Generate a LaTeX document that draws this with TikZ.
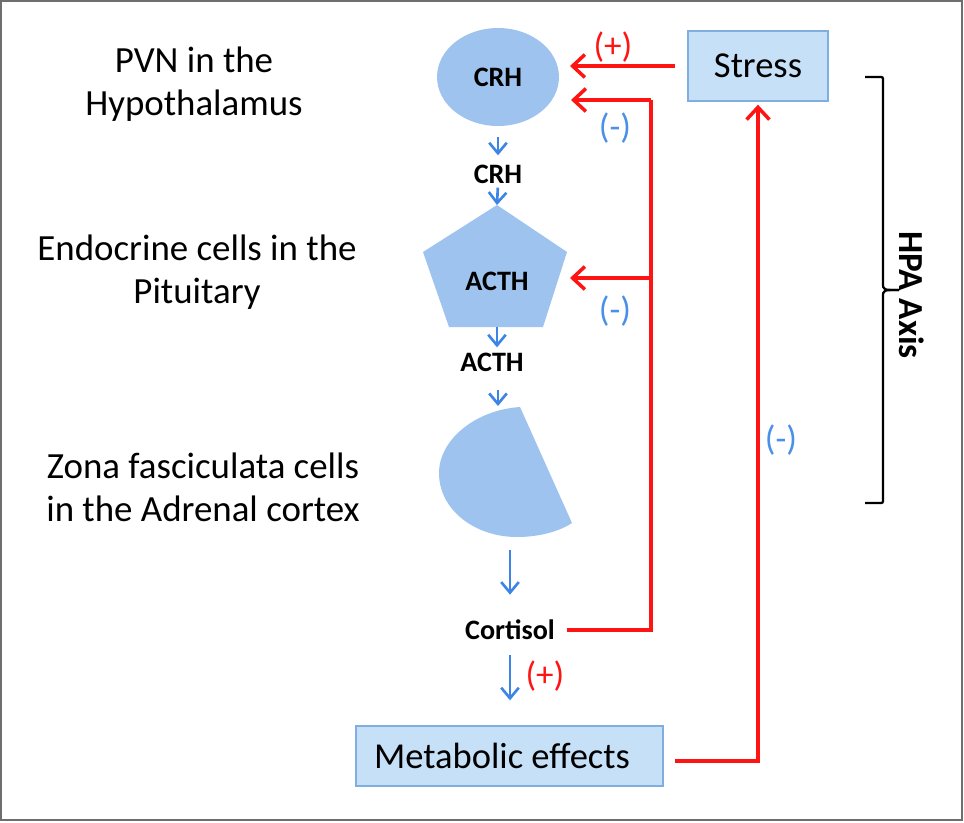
\documentclass[tikz,border=0pt]{standalone}
\usepackage{fontspec}
\setmainfont{Carlito}
\usetikzlibrary{arrows.meta,shapes.geometric}
\definecolor{shapeblue}{HTML}{9DC3EE}
\definecolor{boxfill}{HTML}{C6E0F7}
\definecolor{boxedge}{HTML}{7FAEDF}
\definecolor{arrowblue}{HTML}{3D84E6}
\definecolor{signblue}{HTML}{4A90E8}
\definecolor{fbred}{HTML}{FF1414}
\definecolor{framegray}{HTML}{6E6E6E}
\begin{document}
\begin{tikzpicture}[x=0.02cm,y=-0.02cm,
 lbl/.style={align=center, font=\fontsize{21}{24.4}\selectfont, inner sep=0},
 hormone/.style={font=\bfseries\fontsize{16}{19}\selectfont, inner sep=0},
 sign/.style={font=\fontsize{20}{22}\selectfont, inner sep=0},
 bluearr/.style={draw=arrowblue, line width=1.5pt, -{Straight Barb[length=6pt,width=10pt]}},
 redarr/.style={draw=fbred, line width=2pt, -{Straight Barb[length=7pt,width=13pt]}},
 redline/.style={draw=fbred, line width=2pt},
 infobox/.style={draw=boxedge, fill=boxfill, line width=0.8pt, inner sep=0, font=\fontsize{20.8}{24}\selectfont},
 organ/.style={fill=shapeblue}
]
\useasboundingbox (0,0) rectangle (964,822);
\draw[framegray, line width=1.2pt] (1,1) rectangle (962,820);

% left labels
\node[lbl] (pvn) at (194,84) {PVN in the\\Hypothalamus};
\node[lbl] (pit) at (197,272) {Endocrine cells in the\\Pituitary};
\node[lbl] (zona) at (203,487) {Zona fasciculata cells\\in the Adrenal cortex};

% organs
\node[ellipse, organ, minimum width=2.44cm, minimum height=1.96cm, inner sep=0,
      font=\bfseries\fontsize{16}{19}\selectfont] (crh) at (498,77) {CRH};
\fill[organ] (497,205) coordinate (ptop) -- (567,252) -- (543,327) -- (449,327) -- (423,252) -- cycle;
\coordinate (pbot) at (497,327);
\node[hormone] (acth) at (497,281) {ACTH};
\fill[organ] (520,407) .. controls (475,410) and (439,440) .. (439,473)
  .. controls (439,510) and (475,537) .. (517,537)
  .. controls (540,537) and (560,531) .. (572,523) -- cycle;
\coordinate (stop) at (498,407);
\coordinate (sbot) at (510,537);

% hormone labels
\node[hormone] (crhlbl) at (498,174) {CRH};
\node[hormone] (acthlbl) at (492,362) {ACTH};
\node[hormone] (cort) at (510,630) {Cortisol};

% boxes
\node[infobox, minimum width=2.8cm, minimum height=1.4cm] (stress) at (758,66) {Stress};
\node[infobox, minimum width=6.14cm, minimum height=1.2cm] (metab) at (509.5,756) {\hspace*{-0.3cm}Metabolic effects};

% blue arrows
\draw[bluearr, shorten <=0.22cm, shorten >=0.18cm] (crh.south) -- (crh.south |- crhlbl.north);
\draw[bluearr, shorten <=0.08cm] (crhlbl.south) -- (ptop);
\draw[bluearr, shorten >=0.1cm] (pbot) -- (pbot |- acthlbl.north);
\draw[bluearr, shorten <=0.36cm, shorten >=0.02cm] (acthlbl.south -| stop) -- (stop);
\draw[bluearr, shorten <=0.26cm, shorten >=0.5cm] (sbot) -- (sbot |- cort.north);
\draw[bluearr, shorten <=0.3cm, shorten >=0.5cm] (cort.south) -- (cort.south |- metab.north);

% signs
\node[sign, text=fbred] (plus1) at (613,47) {(+)};
\node[sign, text=signblue] (minus1) at (615,128) {(-)};
\node[sign, text=signblue] (minus2) at (615,311) {(-)};
\node[sign, text=signblue] (minus3) at (781,440) {(-)};
\node[sign, text=fbred] (plus2) at (545,676) {(+)};

% red feedback
\coordinate (fbtop) at (651,100);
\coordinate (fbmid) at (651,278);
\coordinate (fbbot) at (651,630);
\coordinate (crhin) at (571,100);
\coordinate (actin) at (570,278);
\coordinate (crhin2) at (570,66);
\draw[redline] ([xshift=0.24cm]cort.east) -- (fbbot) -- (fbtop);
\draw[redarr] (fbtop) -- (crhin);
\draw[redarr] (fbmid) -- (actin);
\draw[redarr, shorten <=0.24cm] (stress.west) -- (crhin2);
\coordinate (mstart) at (675,761);
\draw[redarr, shorten >=0.06cm] (mstart) -| (stress.south);

% brace
\draw[black, line width=1.3pt] (865,77) -- (879,77) .. controls (883,77) .. (883,81) -- (883,283)
  .. controls (883,290) .. (899,290);
\draw[black, line width=1.3pt] (899,290) .. controls (883,290) .. (883,297) -- (883,499)
  .. controls (883,503) .. (879,503) -- (865,503);
\node[rotate=-90, inner sep=0, font=\bfseries\fontsize{20}{24}\selectfont] (hpa) at (912,295) {HPA Axis};
\end{tikzpicture}
\end{document}
